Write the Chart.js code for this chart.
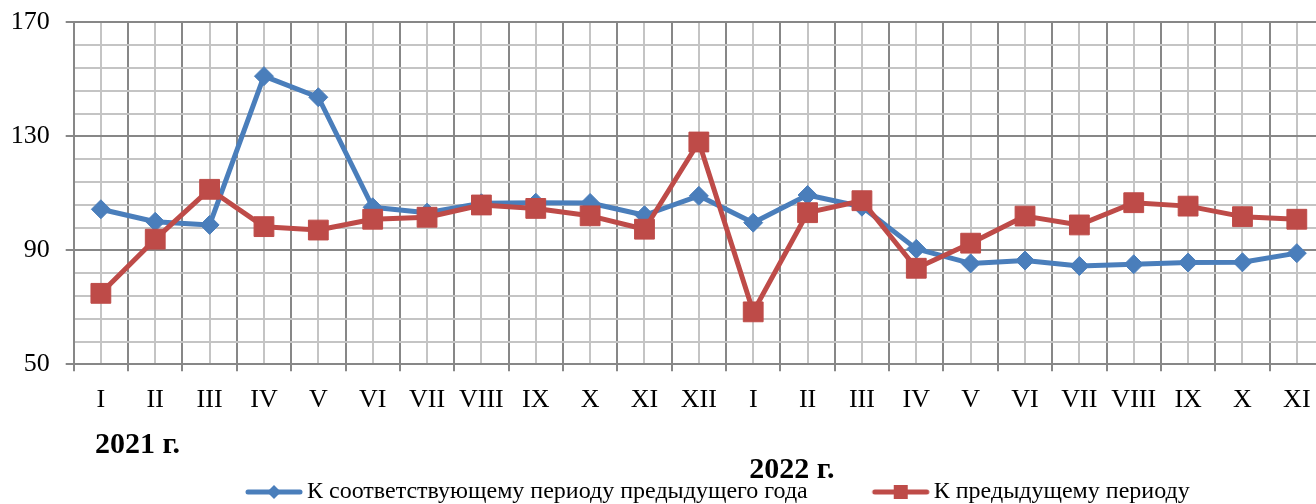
<!DOCTYPE html>
<html><head><meta charset="utf-8">
<script src="https://cdn.jsdelivr.net/npm/chart.js@4"></script>
<style>
html,body{margin:0;padding:0;background:#fff;overflow:hidden;}
canvas{display:block;}
</style></head><body>
<canvas id="c" width="1339" height="504" style="width:1339px;height:504px"></canvas>
<script>
// ---- data ----
const categories = ['I','II','III','IV','V','VI','VII','VIII','IX','X','XI','XII','I','II','III','IV','V','VI','VII','VIII','IX','X','XI'];
const yearLabels = ['2021 г.','2022 г.'];
const yearStartIndex = [0, 12];
const seriesNames = ['К соответствующему периоду предыдущего года','К предыдущему периоду'];
const samePeriodPrevYear = [104.4,100.0,98.9,151.1,143.7,105.1,103.2,106.5,106.7,106.6,102.3,109.1,99.7,109.4,105.3,90.5,85.4,86.4,84.5,85.1,85.7,85.8,89.0];
const prevPeriod = [74.9,93.9,111.4,98.3,97.1,100.9,101.6,105.9,104.7,102.1,97.4,128.0,68.4,103.2,107.4,83.7,92.5,102.0,98.9,106.7,105.5,101.8,100.9];
const yTickLabels = [50,90,130,170];

// ---- styles ----
const BLUE = '#4a7ebb', RED = '#be4b48';
const DARK = '#878787', LIGHT = '#c4c4c4';
const FONT = "'Liberation Serif','Times New Roman',serif";
Chart.defaults.font.family = FONT;
Chart.defaults.color = '#000';

function legendIcon(color, kind){
  const W = 122, H = 20;
  const c = document.createElement('canvas'); c.width = W; c.height = H;
  const g = c.getContext('2d');
  const x0 = W - 58, x1 = W - 2, cx = (x0 + x1) / 2, cy = H / 2;
  g.strokeStyle = color; g.lineWidth = 5; g.lineCap = 'round';
  g.beginPath(); g.moveTo(x0 + 2, cy); g.lineTo(x1 - 2, cy); g.stroke();
  g.fillStyle = color;
  if (kind === 'diamond') {
    g.beginPath(); g.moveTo(cx, cy - 7); g.lineTo(cx + 7, cy); g.lineTo(cx, cy + 7); g.lineTo(cx - 7, cy); g.closePath(); g.fill();
  } else {
    g.fillRect(cx - 7, cy - 7, 14, 14);
  }
  return c;
}
const icons = [legendIcon(BLUE, 'diamond'), legendIcon(RED, 'square')];

const yearPlugin = {
  id: 'years',
  afterDraw(chart){
    const ctx = chart.ctx, xs = chart.scales.x;
    const ys = [445, 470];
    const offs = [-6, -4];
    ctx.save();
    ctx.font = "bold 30px " + FONT;
    ctx.fillStyle = '#000'; ctx.textAlign = 'left'; ctx.textBaseline = 'middle';
    yearLabels.forEach((t, i) => ctx.fillText(t, xs.getPixelForValue(yearStartIndex[i]) + offs[i], ys[i]));
    ctx.restore();
  }
};
const legendShift = {
  id: 'legendShift',
  afterLayout(chart){
    const lg = chart.legend; if (!lg || !lg.lineWidths) return;
    const pad = 10;
    const x0 = (lg.left + pad + lg.right - lg.lineWidths[0]) / 2;
    const dx = 191 - x0; lg.left += dx; lg.right += dx;
    const dy = 470 - lg.top; lg.top += dy; lg.bottom += dy;
  }
};

const isInt = v => Number.isInteger(v);

new Chart(document.getElementById('c'), {
  type: 'line',
  data: {
    datasets: [
      { label: seriesNames[0], data: samePeriodPrevYear.map((v, i) => ({x: i, y: v})),
        borderColor: BLUE, backgroundColor: BLUE, borderWidth: 5, borderJoinStyle: 'round', borderCapStyle: 'round',
        pointStyle: 'rectRot', pointRadius: 9.5, pointHoverRadius: 9.5, pointBorderColor: BLUE, pointBackgroundColor: BLUE, pointBorderWidth: 1,
        tension: 0, order: 1 },
      { label: seriesNames[1], data: prevPeriod.map((v, i) => ({x: i, y: v})),
        borderColor: RED, backgroundColor: RED, borderWidth: 5, borderJoinStyle: 'round', borderCapStyle: 'round',
        pointStyle: 'rect', pointRadius: 14, pointHoverRadius: 14, pointBorderColor: RED, pointBackgroundColor: RED, pointBorderWidth: 1,
        tension: 0, order: 0 }
    ]
  },
  options: {
    responsive: false, animation: false, devicePixelRatio: 1,
    layout: { padding: { top: 22.3, right: 5, left: 0, bottom: 0 } },
    plugins: {
      tooltip: { enabled: false },
      legend: {
        position: 'bottom',
        labels: {
          usePointStyle: true, pointStyleWidth: 104, padding: 10,
          font: { size: 24, family: FONT }, color: '#000',
          sort: (a, b) => a.datasetIndex - b.datasetIndex,
          generateLabels(chart){
            const items = Chart.defaults.plugins.legend.labels.generateLabels(chart);
            items.forEach(it => { it.pointStyle = icons[it.datasetIndex]; });
            return items;
          }
        }
      }
    },
    scales: {
      x: {
        type: 'linear', min: -0.5, max: 22.5,
        afterBuildTicks: s => { const t = []; for (let v = -0.5; v <= 22.5; v += 0.5) t.push({value: v}); s.ticks = t; },
        ticks: { autoSkip: false, maxRotation: 0, minRotation: 0, font: { size: 26 }, padding: 13, color: '#000',
          callback: v => isInt(v) ? categories[v] : '' },
        grid: { color: c => isInt(c.tick && c.tick.value) ? LIGHT : DARK, lineWidth: 2, tickLength: 7,
          tickColor: c => isInt(c.tick && c.tick.value) ? 'rgba(0,0,0,0)' : DARK, tickWidth: 2 },
        border: { color: DARK, width: 2 },
        afterFit: s => {
          const lh = (s.chart.legend && s.chart.legend.height) || 50;
          s.height = 139.7 - lh; s.paddingLeft = 0; s.paddingRight = 0;
        }
      },
      y: {
        min: 50, max: 170,
        afterBuildTicks: s => { const t = []; for (let v = 50; v <= 170; v += 8) t.push({value: v}); s.ticks = t; },
        ticks: { autoSkip: false, font: { size: 26 }, padding: 16, color: '#000',
          callback: v => yTickLabels.includes(v) ? String(v) : '' },
        grid: { color: c => yTickLabels.includes(c.tick && c.tick.value) ? DARK : LIGHT, lineWidth: 2, tickLength: 8,
          tickColor: c => yTickLabels.includes(c.tick && c.tick.value) ? DARK : 'rgba(0,0,0,0)', tickWidth: 2 },
        border: { color: DARK, width: 2 },
        afterFit: s => { s.width = 73.7; s.paddingTop = 0; s.paddingBottom = 0; }
      }
    }
  },
  plugins: [yearPlugin, legendShift]
});
</script>
</body></html>
